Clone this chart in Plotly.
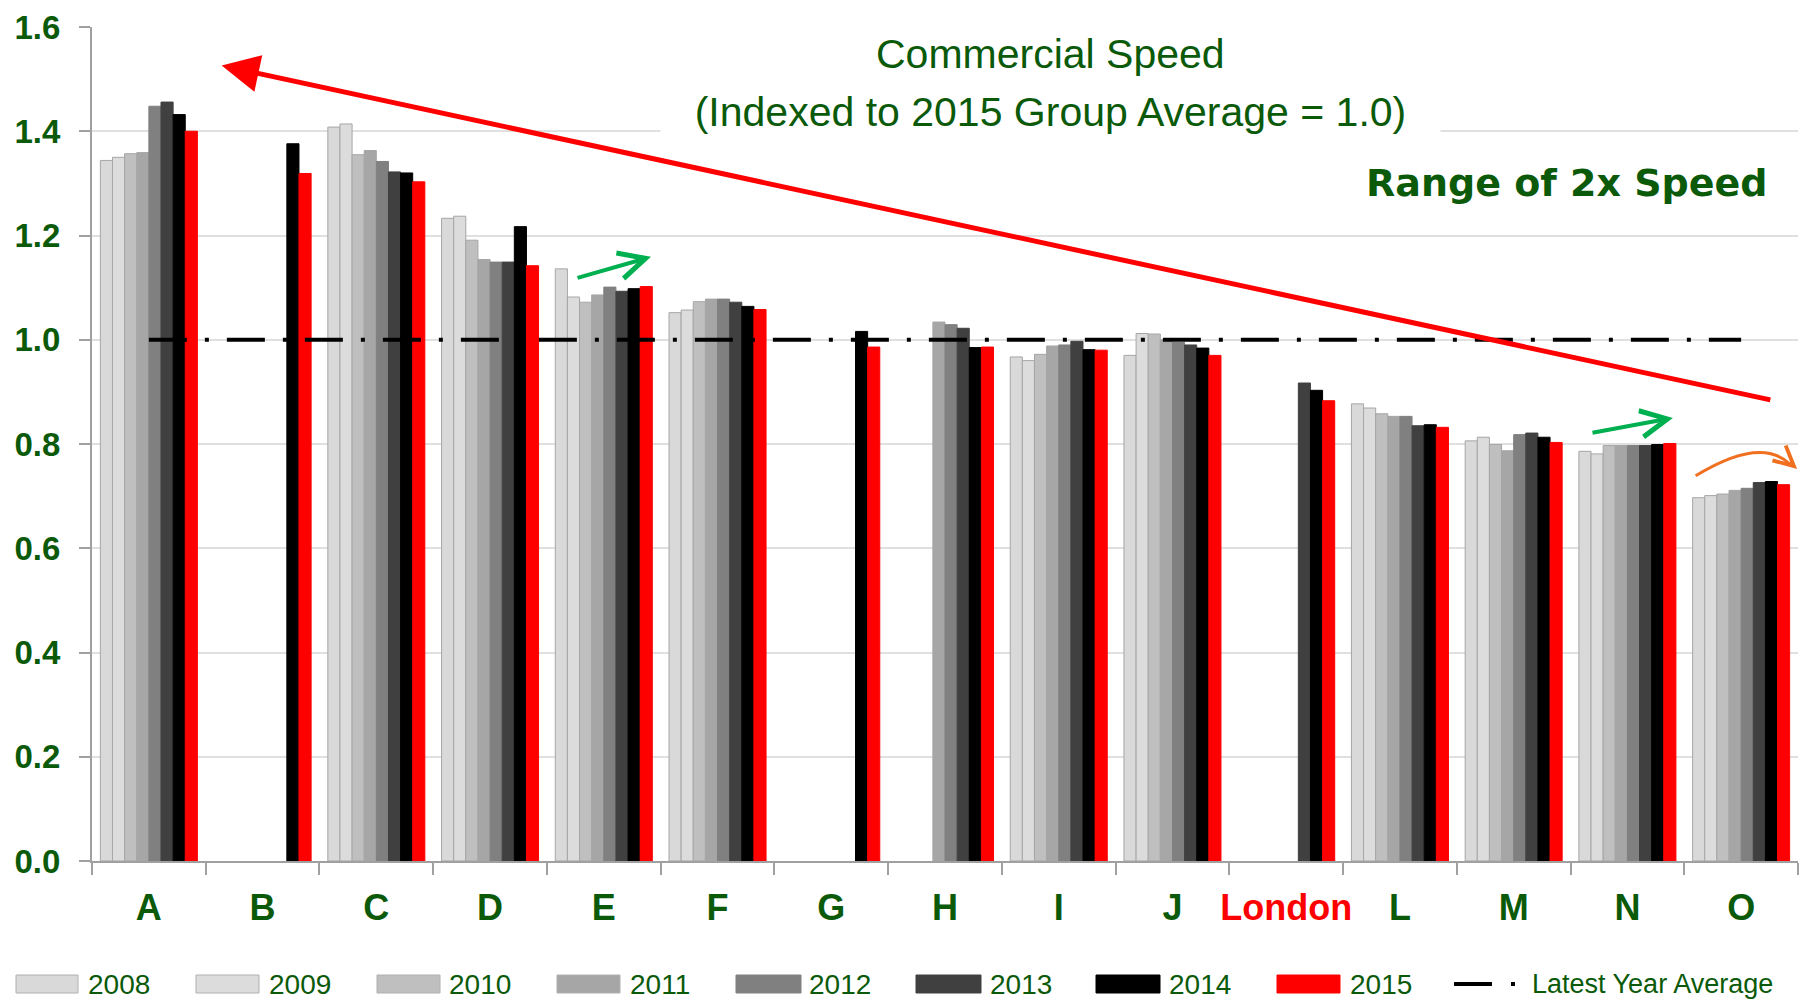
import plotly.graph_objects as go

# ---- data -------------------------------------------------------------
categories = ["A", "B", "C", "D", "E", "F", "G", "H", "I", "J",
              "London", "L", "M", "N", "O"]
years = ["2008", "2009", "2010", "2011", "2012", "2013", "2014", "2015"]

v2008 = [1.344, None, 1.408, 1.233, 1.136, 1.052, None, None, 0.967, 0.970, None, 0.877, 0.806, 0.786, 0.697]
v2009 = [1.350, None, 1.414, 1.237, 1.082, 1.057, None, None, 0.960, 1.012, None, 0.869, 0.813, 0.781, 0.701]
v2010 = [1.357, None, 1.355, 1.191, 1.072, 1.073, None, None, 0.972, 1.011, None, 0.858, 0.799, 0.797, 0.704]
v2011 = [1.359, None, 1.363, 1.154, 1.086, 1.078, None, 1.034, 0.988, 1.000, None, 0.853, 0.787, 0.797, 0.711]
v2012 = [1.448, None, 1.342, 1.149, 1.101, 1.078, None, 1.029, 0.990, 0.995, None, 0.853, 0.818, 0.797, 0.715]
v2013 = [1.456, None, 1.322, 1.149, 1.093, 1.072, None, 1.022, 0.997, 0.990, 0.917, 0.835, 0.821, 0.797, 0.726]
v2014 = [1.432, 1.376, 1.320, 1.217, 1.098, 1.064, 1.016, 0.985, 0.981, 0.984, 0.903, 0.837, 0.813, 0.799, 0.728]
v2015 = [1.400, 1.319, 1.303, 1.142, 1.102, 1.058, 0.986, 0.986, 0.980, 0.970, 0.883, 0.832, 0.803, 0.801, 0.722]
latest_year_average = [1.0] * len(categories)

y_ticks = [0.0, 0.2, 0.4, 0.6, 0.8, 1.0, 1.2, 1.4, 1.6]

series = [v2008, v2009, v2010, v2011, v2012, v2013, v2014, v2015]
fills = ["#d9d9d9", "#dcdcdc", "#bfbfbf", "#a6a6a6", "#808080", "#404040", "#000000", "#ff0000"]
edges = ["#a6a6a6", "#a6a6a6", "#a6a6a6", "#a6a6a6", "#808080", "#404040", "#000000", "#ff0000"]

GREEN = "#0a5a0a"
FONT = "Liberation Sans, Arial, sans-serif"

fig = go.Figure()

for name, vals, fc, ec in zip(years, series, fills, edges):
    fig.add_trace(go.Bar(
        name=name, x=categories, y=vals,
        marker=dict(color=fc, line=dict(color=ec, width=1)),
        showlegend=False,
    ))

# group average reference line
fig.add_trace(go.Scatter(
    x=categories, y=latest_year_average, mode="lines",
    line=dict(color="black", width=4, dash="38px,18px,4px,18px"),
    name="Latest Year Average", showlegend=False,
))

tick_text = [c if c != "London" else '<span style="color:#ff0000">London</span>'
             for c in categories]

fig.update_layout(
    width=1807, height=999, autosize=False,
    margin=dict(l=92, r=9, t=27, b=138),
    paper_bgcolor="white", plot_bgcolor="white",
    barmode="group", bargap=0.147, bargroupgap=0.0,
    font=dict(family=FONT, color=GREEN),
    showlegend=False,
    xaxis=dict(
        type="category", categoryorder="array", categoryarray=categories,
        tickmode="array", tickvals=categories, ticktext=tick_text, tickangle=0,
        tickfont=dict(size=36, color=GREEN, family=FONT, weight="bold"),
        showline=True, linecolor="#a0a0a0", linewidth=2,
        ticks="outside", ticklen=12, tickwidth=2, tickcolor="#a0a0a0",
        tickson="boundaries", showgrid=False, automargin=False,
        ticklabelstandoff=14,
    ),
    yaxis=dict(
        range=[0, 1.6], tickvals=y_ticks, tickformat=".1f",
        tickfont=dict(size=33, color=GREEN, family=FONT, weight="bold"),
        showline=True, linecolor="#a0a0a0", linewidth=2,
        ticks="outside", ticklen=11, tickwidth=2, tickcolor="#a0a0a0",
        showgrid=True, gridcolor="#e0e0e0", gridwidth=2,
        zeroline=False, automargin=False, ticklabelstandoff=12,
    ),
)

annotations = [
    # titles
    dict(text="Commercial Speed", x=7.93, y=1.548, xref="x", yref="y",
         showarrow=False, font=dict(size=41, color=GREEN, family=FONT)),
    dict(text="(Indexed to 2015 Group Average = 1.0)", x=7.93, y=1.437, xref="x", yref="y",
         showarrow=False, font=dict(size=41, color=GREEN, family=FONT),
         bgcolor="white", width=775, borderpad=2),
    dict(text="Range of 2x Speed", x=12.47, y=1.300, xref="x", yref="y",
         showarrow=False, font=dict(size=38, color=GREEN, family="DejaVu Sans, sans-serif",
                                    weight="bold")),
    # long red trend arrow
    dict(x=0.64, y=1.526, ax=14.27, ay=0.884, xref="x", yref="y", axref="x", ayref="y",
         text="", showarrow=True, arrowhead=2, arrowsize=1.5, arrowwidth=5,
         arrowcolor="#ff0000"),
    # green arrows
    dict(x=4.415, y=1.159, ax=3.756, ay=1.118, xref="x", yref="y", axref="x", ayref="y",
         text="", showarrow=True, arrowhead=5, arrowsize=1.3, arrowwidth=4,
         arrowcolor="#00b050"),
    dict(x=13.40, y=0.850, ax=12.68, ay=0.821, xref="x", yref="y", axref="x", ayref="y",
         text="", showarrow=True, arrowhead=5, arrowsize=1.3, arrowwidth=4,
         arrowcolor="#00b050"),
    # orange curved arrow head
    dict(x=0.9995, y=0.752, xref="paper", yref="y", ax=-9, ay=-8,
         text="", showarrow=True, arrowhead=5, arrowsize=1.3, arrowwidth=3,
         arrowcolor="#f07020"),
]

shapes = [
    # orange curved stroke
    dict(type="path", xref="paper", yref="y",
         path="M 0.940,0.739 Q 0.978,0.815 0.995,0.762",
         line=dict(color="#f07020", width=3)),
]

# legend row drawn below the axis
legend_swatch_x = [(16, 78), (196, 259), (377, 440), (557, 620),
                   (736, 801), (916, 981), (1096, 1160), (1277, 1340)]
legend_text_x = [86, 267, 447, 628, 807, 988, 1167, 1348]
PLOT_L, PLOT_W = 92, 1706
PLOT_B, PLOT_H = 861, 834


def px_x(p):
    return (p - PLOT_L) / PLOT_W


def px_y(p):
    return (PLOT_B - p) / PLOT_H


for (x0, x1), tx, name, fc, ec in zip(legend_swatch_x, legend_text_x, years, fills, edges):
    shapes.append(dict(type="rect", xref="paper", yref="paper",
                       x0=px_x(x0), x1=px_x(x1), y0=px_y(993), y1=px_y(975),
                       fillcolor=fc, line=dict(color=ec if ec != "#a6a6a6" else "#b0b0b0", width=1)))
    annotations.append(dict(text=name, x=px_x(tx), y=px_y(984), xref="paper", yref="paper",
                            xanchor="left", yanchor="middle", showarrow=False,
                            font=dict(size=28, color=GREEN, family=FONT)))

shapes.append(dict(type="line", xref="paper", yref="paper",
                   x0=px_x(1454), x1=px_x(1492), y0=px_y(984), y1=px_y(984),
                   line=dict(color="black", width=4)))
shapes.append(dict(type="line", xref="paper", yref="paper",
                   x0=px_x(1511), x1=px_x(1515), y0=px_y(984), y1=px_y(984),
                   line=dict(color="black", width=4)))
annotations.append(dict(text="Latest Year Average", x=px_x(1530), y=px_y(984),
                        xref="paper", yref="paper", xanchor="left", yanchor="middle",
                        showarrow=False, font=dict(size=27, color=GREEN, family=FONT)))

fig.update_layout(annotations=annotations, shapes=shapes)

fig.write_html("out.html")
